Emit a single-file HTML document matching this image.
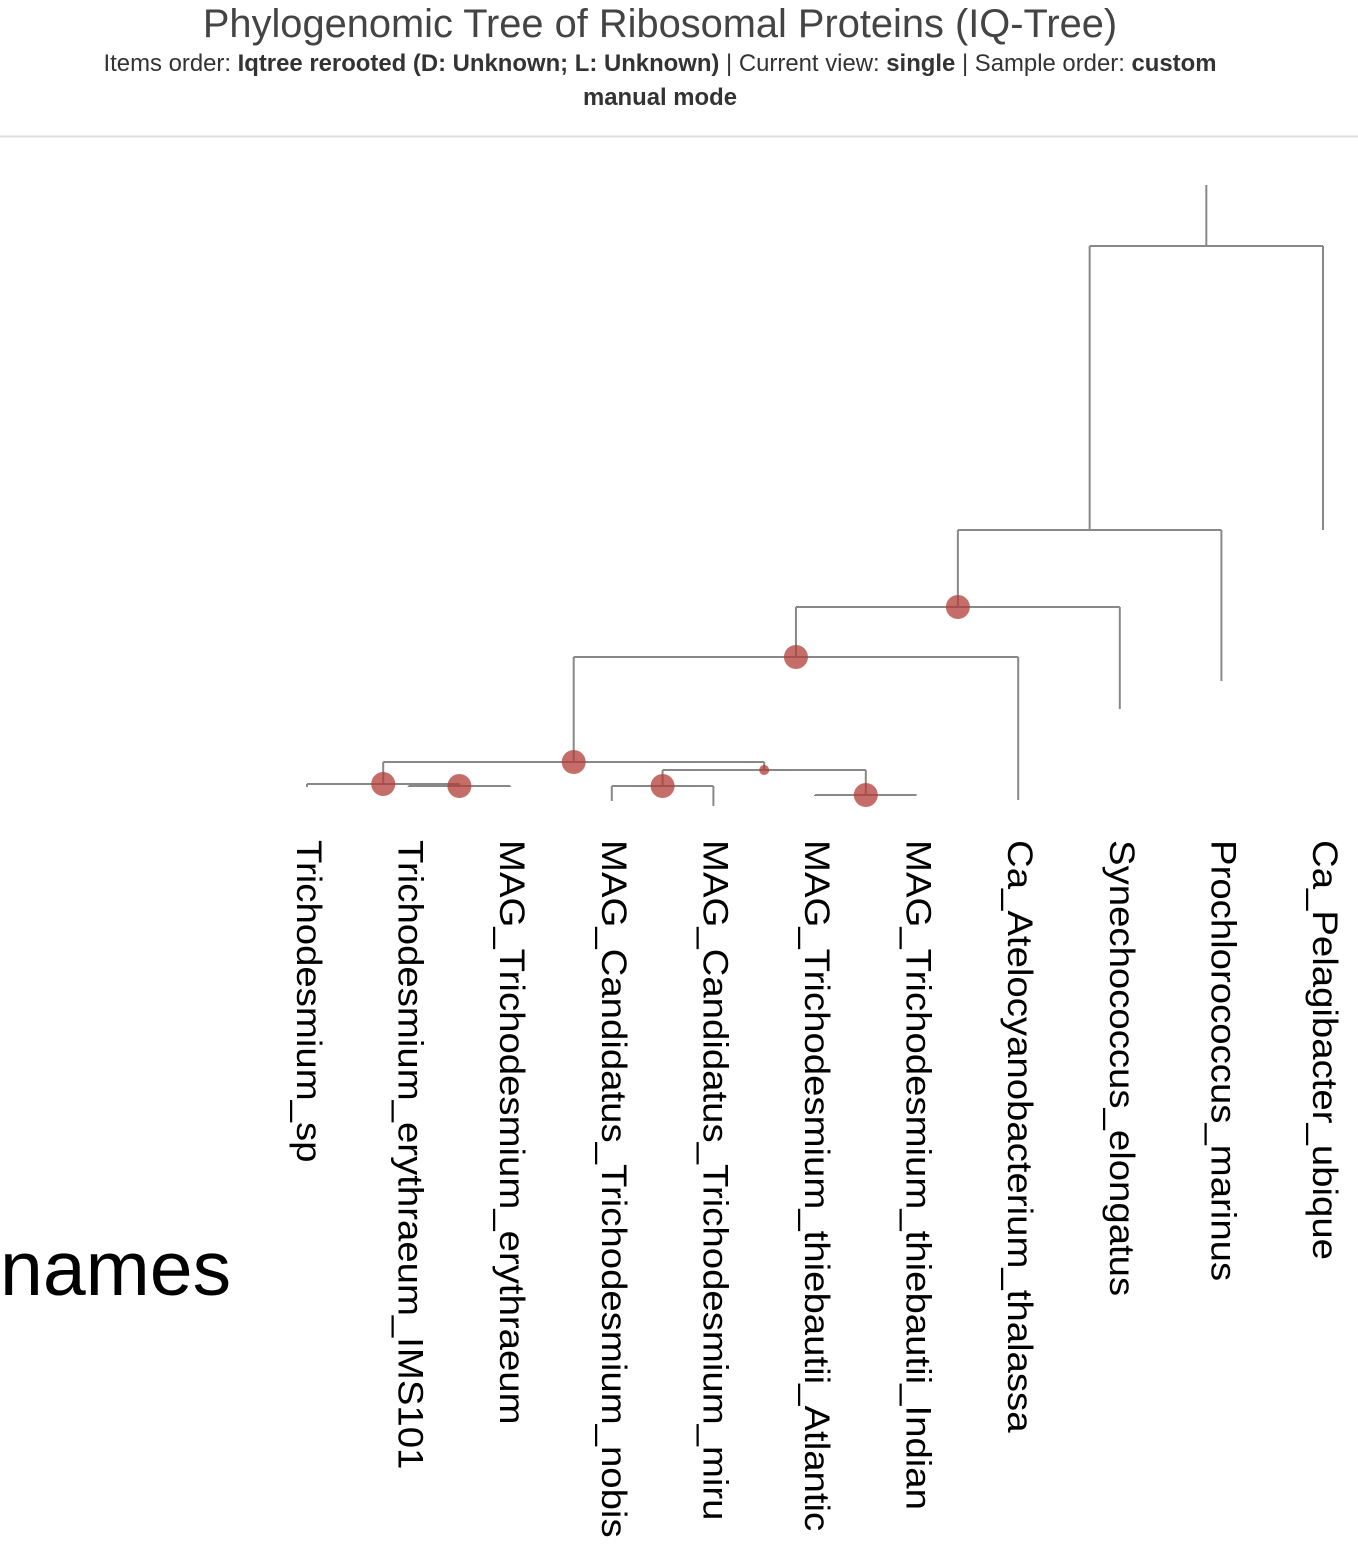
<!DOCTYPE html>
<html><head><meta charset="utf-8"><style>
html,body{margin:0;padding:0;background:#fff;width:1358px;height:1568px;overflow:hidden}
svg{display:block}
</style></head><body>
<svg id="chart" width="1358" height="1568" xmlns="http://www.w3.org/2000/svg">
<text x="660" y="37" text-anchor="middle" font-family="Liberation Sans, sans-serif" font-size="39.8" fill="#444">Phylogenomic Tree of Ribosomal Proteins (IQ-Tree)</text>
<text x="660" y="71" text-anchor="middle" font-family="Liberation Sans, sans-serif" font-size="23.9" fill="#333">Items order: <tspan font-weight="bold">Iqtree rerooted (D: Unknown; L: Unknown)</tspan> | Current view: <tspan font-weight="bold">single</tspan> | Sample order: <tspan font-weight="bold">custom</tspan></text>
<text x="660" y="105" text-anchor="middle" font-family="Liberation Sans, sans-serif" font-size="23.9" font-weight="bold" fill="#333">manual mode</text>
<line x1="0" y1="136.5" x2="1358" y2="136.5" stroke="#ddd" stroke-width="2"/>
<text x="0" y="1295" font-family="Liberation Sans, sans-serif" font-size="77" fill="#000">names</text>
<g id="tree"></g>
<g id="dots"></g>
<g id="labels"></g>
</svg>
<script>
// leaves (left to right) and their depths (distance from top in tree units)
const leafNames = ["Trichodesmium_sp","Trichodesmium_erythraeum_IMS101","MAG_Trichodesmium_erythraeum","MAG_Candidatus_Trichodesmium_nobis","MAG_Candidatus_Trichodesmium_miru","MAG_Trichodesmium_thiebautii_Atlantic","MAG_Trichodesmium_thiebautii_Indian","Ca_Atelocyanobacterium_thalassa","Synechococcus_elongatus","Prochlorococcus_marinus","Ca_Pelagibacter_ubique"];
const leafDepths = [1.204, 1.204, 1.204, 1.232, 1.242, 1.222, 1.220, 1.230, 1.048, 0.992, 0.690];
// internal nodes (children listed before parents): [childA, childB], depth, support size
const nodeIds = ["B","A","E","F","D","C","G","H","I","R"];
const nodeChildren = [["L1","L2"],["L0","B"],["L3","L4"],["L5","L6"],["E","F"],["A","D"],["C","L7"],["G","L8"],["H","L9"],["I","L10"]];
const nodeDepths = [1.202, 1.198, 1.202, 1.220, 1.170, 1.154, 0.944, 0.844, 0.690, 0.122];
const nodeSupport = [1, 1, 1, 1, 0.4, 1, 1, 1, 0, 0];
const rootStem = 0;

const xScale = i => 307 + i * 101.6;
const yScale = d => 185 + d * 500;
const NS = "http://www.w3.org/2000/svg";
const tree = document.getElementById('tree');
const dots = document.getElementById('dots');
const labels = document.getElementById('labels');

const pos = {};
leafNames.forEach((n, i) => { pos["L" + i] = {x: xScale(i), y: yScale(leafDepths[i])}; });
nodeIds.forEach((id, k) => {
  const [a, b] = nodeChildren[k];
  pos[id] = {x: (pos[a].x + pos[b].x) / 2, y: yScale(nodeDepths[k])};
});
function line(x1, y1, x2, y2, name) {
  const l = document.createElementNS(NS, 'line');
  l.setAttribute('x1', x1); l.setAttribute('y1', y1); l.setAttribute('x2', x2); l.setAttribute('y2', y2);
  l.setAttribute('stroke', '#888'); l.setAttribute('stroke-width', '2');
  
  
  tree.appendChild(l);
}
nodeIds.forEach((id, k) => {
  const p = pos[id];
  const [a, b] = nodeChildren[k];
  line(pos[a].x, p.y, pos[b].x, p.y, 'branch-horizontal-' + id);
  line(pos[a].x, p.y, pos[a].x, pos[a].y, 'branch-vertical-' + a);
  line(pos[b].x, p.y, pos[b].x, pos[b].y, 'branch-vertical-' + b);
});
nodeIds.forEach((id, k) => {
  const p = pos[id];
  if (nodeSupport[k] > 0) {
    const c = document.createElementNS(NS, 'circle');
    c.setAttribute('cx', p.x); c.setAttribute('cy', p.y);
    c.setAttribute('r', nodeSupport[k] < 1 ? 5 : 12);
    c.setAttribute('fill', 'rgba(178,62,55,0.75)');
    
    
    dots.appendChild(c);
  }
});
line(pos.R.x, yScale(rootStem), pos.R.x, pos.R.y, 'root-stem');

leafNames.forEach((n, i) => {
  const t = document.createElementNS(NS, 'text');
  const x = xScale(i) - 10, y = 840;
  t.setAttribute('x', 0); t.setAttribute('y', 0);
  t.setAttribute('transform', 'translate(' + x + ' ' + y + ') rotate(90) scale(1.096 1)');
  t.setAttribute('font-family', 'Liberation Sans, sans-serif');
  t.setAttribute('font-size', '35');
  t.setAttribute('fill', '#000');
  t.textContent = n;
  
  
  labels.appendChild(t);
});
</script>
</body></html>
